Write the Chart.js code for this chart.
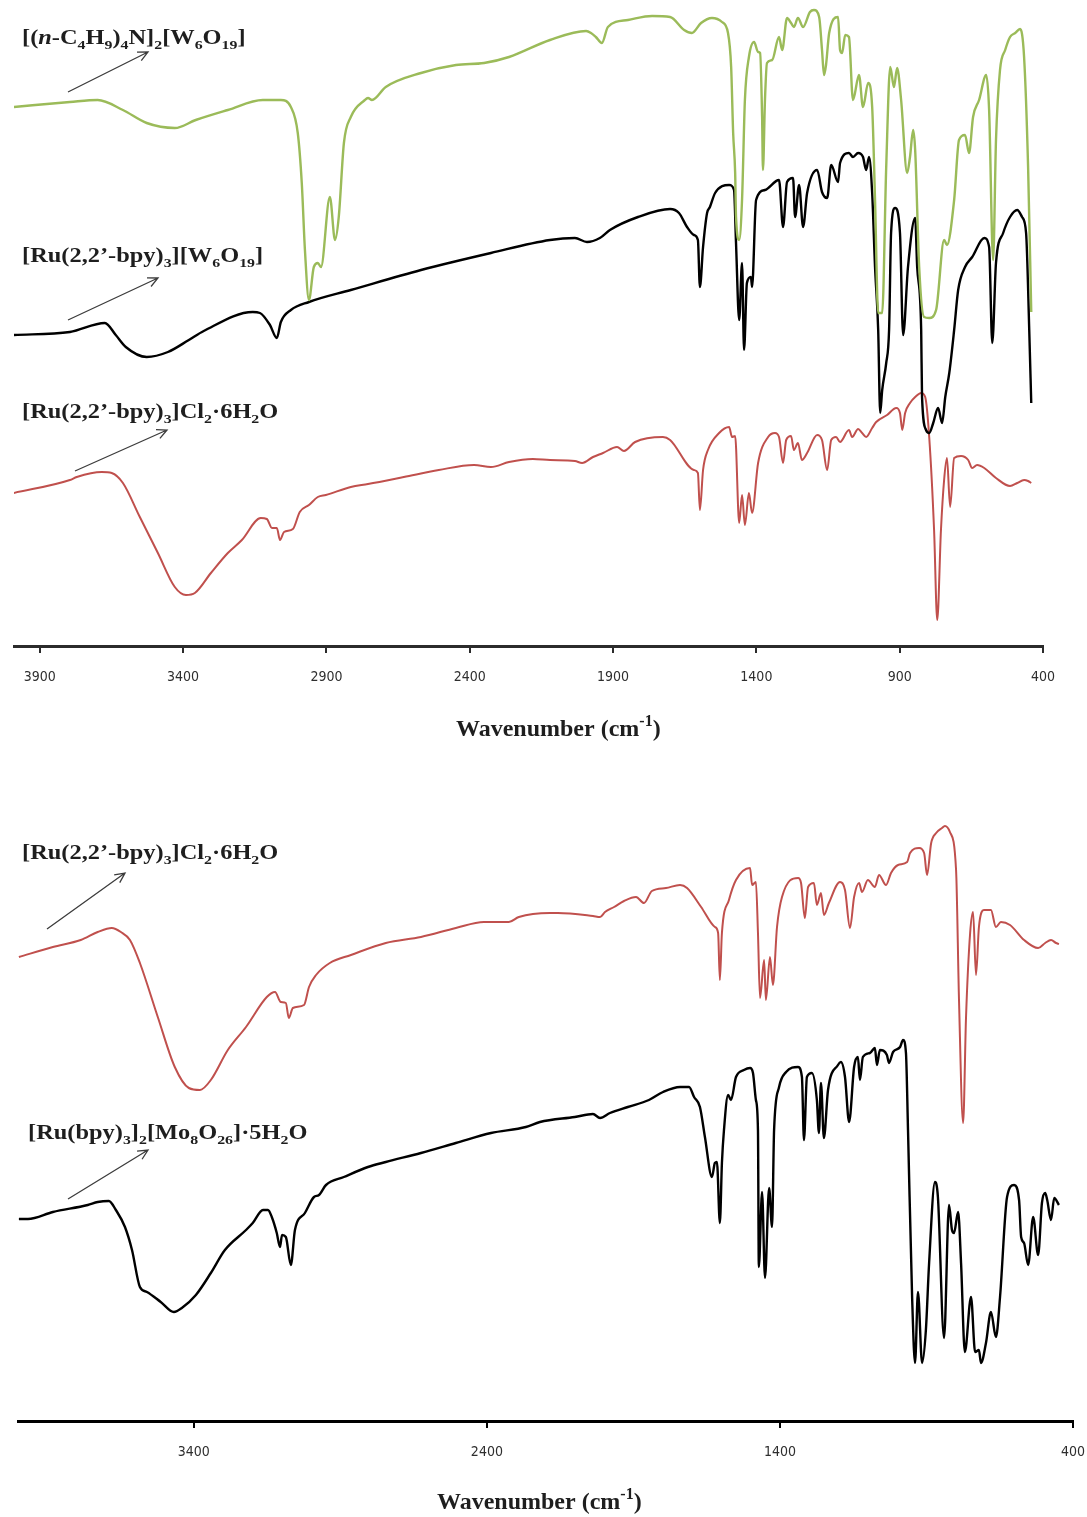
<!DOCTYPE html>
<html>
<head>
<meta charset="utf-8">
<title>IR spectra</title>
<script src="https://cdn.jsdelivr.net/npm/chart.js@4.4.1/dist/chart.umd.min.js"></script>
<style>
  body { margin: 0; background: #fff; }
  #wrap { position: relative; width: 1087px; height: 1517px; }
  canvas { position: absolute; left: 0; }
</style>
</head>
<body>
<div id="wrap">
  <canvas id="topChart" width="1087" height="760" style="top:0"></canvas>
  <canvas id="bottomChart" width="1087" height="757" style="top:760px"></canvas>
</div>
<script>
// Axis ticks (wavenumber, cm-1)
const topTicks = [3900, 3400, 2900, 2400, 1900, 1400, 900, 400];
const bottomTicks = [3400, 2400, 1400, 400];

// [(n-C4H9)4N]2[W6O19] (green, upper panel)
const tbaWn = [3991,3795,3698,3610,3527,3429,3356,3244,3122,3059,3024,3000,2986,2975,2961,2944,2930,2919,2888,2870,2857,2839,2815,2766,2755,2741,2693,2570,2448,2350,2263,2120,1994,1977,1960,1939,1918,1848,1764,1701,1652,1625,1593,1555,1520,1499,1488,1481,1474,1471,1460,1450,1440,1426,1408,1394,1387,1380,1377,1370,1363,1345,1321,1310,1293,1279,1269,1255,1237,1213,1199,1181,1171,1164,1157,1146,1115,1108,1101,1090,1077,1063,1042,1028,1010,996,986,975,961,947,933,920,909,895,874,864,853,846,832,815,797,773,745,735,710,693,672,658,644,623,598,588,574,564,550,532,515,497,480,466,452,441];
const tbaT = [53.9,54.4,54.6,53.6,52.3,51.8,52.6,53.6,54.6,54.6,53.9,51.3,46.3,39.6,34.6,37.9,38.3,37.9,44.9,40.6,42.9,50.3,52.9,54.6,54.8,54.6,55.9,57.3,58.1,58.3,58.9,60.6,61.5,61.3,60.9,60.3,61.9,62.6,63.0,62.9,61.6,61.3,62.3,62.8,62.4,61.3,57.9,51.3,47.3,42.9,40.6,44.6,54.6,58.9,60.4,59.4,59.3,52.9,47.6,54.6,58.3,58.6,60.9,59.6,62.8,62.3,61.9,62.8,61.9,63.4,63.6,62.9,59.6,57.1,58.1,61.3,62.9,59.6,59.3,61.1,60.9,54.6,57.1,53.9,56.3,53.9,44.6,33.3,33.3,47.9,57.9,55.9,57.8,54.6,47.3,48.9,51.6,49.6,37.9,32.9,32.8,33.6,40.6,40.1,44.6,50.6,51.1,49.3,52.9,54.6,57.1,53.6,38.6,50.6,57.6,59.6,60.9,61.3,61.7,58.9,47.9,33.4];

// [Ru(2,2'-bpy)3][W6O19] (black, upper panel)
const ruW6Wn = [3991,3795,3673,3635,3600,3527,3453,3380,3328,3157,3132,3097,3073,3059,3024,2961,2815,2570,2326,2120,2033,1991,1946,1911,1813,1701,1670,1642,1618,1604,1597,1586,1572,1562,1544,1495,1478,1471,1460,1450,1443,1433,1419,1415,1401,1370,1321,1307,1293,1272,1265,1251,1237,1223,1188,1171,1153,1139,1115,1108,1077,1063,1045,1028,1017,1007,996,986,975,968,961,947,937,930,916,899,888,871,846,839,825,822,808,797,783,766,752,741,727,710,696,672,647,605,588,577,564,539,515,490,473,459,448,441];
const ruW6T = [31.1,31.4,32.3,31.1,29.9,28.9,29.4,30.6,31.5,33.4,33.3,32.1,30.8,32.4,33.6,34.4,35.6,37.6,39.3,40.6,40.8,40.4,40.8,41.6,42.9,43.7,43.3,41.9,41.1,40.6,35.9,39.9,43.3,43.9,45.3,46.1,45.6,40.3,32.6,38.3,29.6,36.3,36.9,35.9,44.6,45.6,46.6,41.9,46.4,46.8,42.9,46.1,41.9,45.3,47.6,45.4,44.8,48.1,46.4,48.3,49.3,48.9,49.3,48.9,47.6,48.9,45.3,37.9,31.6,23.3,25.6,28.3,31.6,41.3,43.8,41.3,31.1,37.9,42.8,37.9,31.6,24.9,21.6,21.3,22.3,23.8,22.3,24.9,27.3,31.6,35.6,37.9,38.9,40.8,39.9,30.3,38.3,41.3,42.9,43.6,42.9,41.3,31.6,24.3];

// [Ru(2,2'-bpy)3]Cl2.6H2O (red, upper panel)
const ruClTopWn = [3991,3795,3771,3684,3649,3610,3551,3488,3429,3390,3359,3303,3244,3195,3129,3108,3090,3073,3062,3048,3017,2993,2961,2930,2902,2815,2755,2630,2508,2385,2326,2263,2180,2120,2033,2008,1970,1935,1886,1862,1823,1726,1701,1618,1604,1597,1586,1569,1530,1495,1485,1474,1460,1450,1440,1426,1415,1394,1359,1335,1321,1307,1296,1279,1269,1255,1241,1223,1188,1171,1153,1139,1122,1108,1077,1066,1045,1031,1017,996,982,944,912,899,891,881,864,846,825,811,797,780,769,756,745,735,724,710,686,661,647,630,605,564,515,490,466,452,441];
const ruClTopT = [15.3,16.6,16.9,17.4,17.3,16.3,12.9,9.3,5.9,5.1,5.3,7.3,9.3,10.6,12.8,12.7,11.8,11.8,10.6,11.4,11.7,13.4,14.1,14.9,15.1,15.9,16.2,16.9,17.6,18.1,17.9,18.4,18.7,18.6,18.5,18.3,18.9,19.3,19.9,19.5,20.4,20.9,20.6,17.6,17.3,13.6,17.6,19.6,21.3,21.9,20.9,21.0,12.3,15.1,12.1,15.3,13.3,18.3,20.9,21.3,20.9,18.3,20.6,21.0,19.6,20.3,18.6,19.3,21.1,20.6,17.6,20.6,20.9,20.4,21.6,20.9,21.7,21.3,20.9,21.8,22.4,23.1,23.8,23.3,21.6,23.3,24.3,24.9,25.3,24.9,20.9,11.6,2.6,11.6,16.6,18.8,13.9,18.8,19.0,18.6,17.8,18.1,17.8,16.8,16.0,16.3,16.6,16.5,16.3];

// [Ru(2,2'-bpy)3]Cl2.6H2O (red, lower panel)
const ruClBotWn = [3997,3881,3786,3728,3680,3649,3618,3584,3523,3465,3417,3379,3342,3284,3222,3151,3123,3103,3086,3076,3062,3024,3007,2983,2936,2864,2745,2625,2506,2410,2325,2291,2185,2158,2038,2014,1997,1966,1932,1891,1864,1837,1789,1741,1717,1669,1622,1611,1605,1598,1574,1550,1502,1495,1482,1475,1468,1454,1448,1434,1424,1410,1393,1338,1328,1315,1304,1284,1274,1260,1250,1233,1195,1178,1161,1147,1130,1120,1100,1076,1062,1038,1021,997,966,956,925,908,898,884,867,847,837,820,799,789,775,765,751,741,731,721,704,680,663,646,615,567,519,495,475,458,448];
const ruClBotT = [46.4,47.4,48.1,48.9,49.3,48.9,48.1,45.8,40.4,35.4,33.3,33.1,34.1,37.1,39.4,42.4,42.9,41.9,41.8,40.3,41.3,41.6,43.4,44.6,45.8,46.6,47.8,48.4,49.3,49.9,49.9,50.4,50.8,50.8,50.5,50.4,50.9,51.4,52.0,52.4,51.8,53.0,53.3,53.6,53.3,51.4,49.4,48.8,44.1,48.8,52.1,54.1,55.3,53.6,53.9,48.8,42.3,46.1,42.1,46.4,43.6,49.4,52.4,54.3,53.8,50.3,53.4,53.8,51.6,52.8,50.6,51.8,53.9,53.1,49.3,52.4,53.8,52.9,54.1,53.4,54.6,53.6,54.8,55.6,55.9,56.8,57.3,56.8,54.6,57.8,58.8,59.3,59.5,58.9,55.1,42.1,29.8,40.4,48.8,50.9,44.6,49.4,51.1,51.1,49.4,49.9,49.6,48.1,47.3,47.8,48.1,47.8,47.7];

// [Ru(bpy)3]2[Mo8O26].5H2O (black, lower panel)
const ruMoWn = [3997,3966,3881,3762,3728,3690,3666,3635,3611,3584,3560,3513,3468,3441,3393,3342,3294,3222,3199,3164,3147,3134,3117,3106,3099,3086,3069,3055,3021,2990,2973,2949,2888,2806,2745,2625,2506,2386,2267,2219,2100,2038,2014,1980,1919,1847,1799,1741,1710,1693,1673,1656,1632,1622,1615,1605,1598,1591,1577,1567,1550,1523,1502,1492,1482,1475,1472,1461,1451,1437,1427,1420,1403,1379,1338,1325,1318,1308,1291,1274,1267,1260,1250,1236,1202,1192,1178,1164,1147,1134,1127,1117,1093,1076,1069,1059,1035,1028,1014,990,980,970,963,949,939,929,915,902,891,871,861,840,823,813,806,792,782,769,748,734,721,714,697,680,663,649,625,601,584,577,567,553,536,519,506,495,488,475,464,448];
const ruMoT = [20.2,20.2,20.9,21.6,21.9,22.0,21.1,19.4,17.1,13.4,12.9,11.9,10.9,11.3,12.6,14.8,17.1,19.1,19.8,21.1,21.1,20.4,18.8,17.4,18.6,18.4,15.6,19.1,20.8,22.4,22.6,23.6,24.4,25.4,25.9,26.8,27.8,28.8,29.4,29.9,30.4,30.7,30.3,30.8,31.4,32.1,32.9,33.4,33.4,32.4,31.4,28.4,24.4,25.8,25.9,19.8,25.8,29.1,32.6,32.1,34.4,35.1,35.3,34.8,32.1,29.1,15.4,22.9,14.3,23.3,19.4,29.1,33.4,34.9,35.4,34.4,28.1,34.4,34.8,32.1,28.8,33.8,28.3,33.1,35.6,35.9,34.4,29.9,35.4,36.4,34.1,36.4,36.8,37.3,35.6,37.1,36.6,35.8,36.9,37.4,38.1,36.8,29.1,12.4,5.8,12.9,5.8,9.1,15.8,23.9,22.4,8.3,21.6,19.1,18.8,20.9,15.8,6.9,12.4,6.9,7.1,5.8,7.8,10.9,8.4,12.4,22.4,23.6,22.1,18.4,17.8,15.6,20.4,16.6,21.8,22.8,22.1,20.1,22.3,21.6];

const colors = {
    green: '#9bbb59',
    black: '#000000',
    red: '#c0504d',
    text: '#1e1e1e',
    arrow: '#3c3c3c'
};

const SERIF = '"Liberation Serif", "Times New Roman", serif';

// Draw a run of text pieces; 's' = subscript, 'p' = superscript, 'i' = italic
// sx stretches the run horizontally (the original labels are wide)
function drawRich(ctx, x, y, parts, size, sx) {
    let cx = 0;
    ctx.save();
    ctx.translate(x, y);
    ctx.scale(sx, 1);
    ctx.textAlign = 'left';
    ctx.textBaseline = 'alphabetic';
    ctx.fillStyle = colors.text;
    parts.forEach(([txt, kind]) => {
        const small = kind === 's' || kind === 'p';
        const fs = small ? Math.round(size * 0.66) : size;
        ctx.font = (kind === 'i' ? 'italic ' : '') + 'bold ' + fs + 'px ' + SERIF;
        const dy = kind === 's' ? size * 0.25 : kind === 'p' ? -size * 0.42 : 0;
        ctx.fillText(txt, cx, dy);
        cx += ctx.measureText(txt).width;
    });
    ctx.restore();
}

// Thin arrow with an open head
function drawArrow(ctx, [x1, y1, x2, y2]) {
    const ang = Math.atan2(y2 - y1, x2 - x1);
    const len = 11;
    ctx.save();
    ctx.strokeStyle = colors.arrow;
    ctx.lineWidth = 1.3;
    ctx.beginPath();
    ctx.moveTo(x1, y1);
    ctx.lineTo(x2, y2);
    ctx.moveTo(x2 - len * Math.cos(ang - 0.45), y2 - len * Math.sin(ang - 0.45));
    ctx.lineTo(x2, y2);
    ctx.lineTo(x2 - len * Math.cos(ang + 0.45), y2 - len * Math.sin(ang + 0.45));
    ctx.stroke();
    ctx.restore();
}

// Labels, arrows and axis title for one panel
function makeNotes(labels, arrows, title) {
    return {
        id: 'notes',
        afterDraw(chart) {
            const ctx = chart.ctx;
            labels.forEach(l => drawRich(ctx, l.x, l.y, l.parts, 20, 1.22));
            arrows.forEach(a => drawArrow(ctx, a));
            drawRich(ctx, title.x, title.y, [['Wavenumber (cm', ''], ['-1', 'p'], [')', '']], 24, 1.0);
        }
    };
}

function spectrum(wn, t, color, width) {
    return {
        data: wn.map((x, i) => ({ x: x, y: t[i] })),
        borderColor: color,
        borderWidth: width,
        pointRadius: 0,
        cubicInterpolationMode: 'monotone',
        fill: false
    };
}

function buildChart(canvasId, datasets, cfg, notes) {
    return new Chart(document.getElementById(canvasId), {
        type: 'line',
        data: { datasets: datasets },
        options: {
            responsive: false,
            animation: false,
            devicePixelRatio: 1,
            layout: { padding: { left: cfg.padLeft, right: cfg.padRight, top: 0, bottom: 0 } },
            plugins: {
                legend: { display: false },
                tooltip: { enabled: false }
            },
            scales: {
                x: {
                    type: 'linear',
                    reverse: true,
                    min: 400,
                    max: cfg.xMax,
                    afterBuildTicks: s => { s.ticks = cfg.ticks.map(v => ({ value: v })); },
                    afterFit: s => {
                        s.height = cfg.axisHeight;
                        // keep the plot edges where the original has them
                        s.paddingLeft = 0;
                        s.paddingRight = 0;
                    },
                    border: { display: true, color: cfg.axisColor, width: 3 },
                    grid: {
                        display: true,
                        drawOnChartArea: false,
                        drawTicks: true,
                        tickLength: 7,
                        lineWidth: 2,
                        color: cfg.axisColor
                    },
                    ticks: {
                        autoSkip: false,
                        maxRotation: 0,
                        padding: 16,
                        color: '#2e2e2e',
                        font: { family: '"DejaVu Sans Condensed", "DejaVu Sans", sans-serif', size: 14 },
                        callback: v => String(v)
                    }
                },
                y: { display: false, min: 0, max: cfg.yMax }
            }
        },
        plugins: [notes]
    });
}

document.addEventListener('DOMContentLoaded', function() {
    // Upper panel: W6O19 salts
    buildChart('topChart', [
        spectrum(tbaWn, tbaT, colors.green, 2.4),
        spectrum(ruW6Wn, ruW6T, colors.black, 2.4),
        spectrum(ruClTopWn, ruClTopT, colors.red, 2)
    ], {
        padLeft: 14, padRight: 44, xMax: 3990, yMax: 64.6,
        axisHeight: 114, axisColor: '#2b2b2b', ticks: topTicks
    }, makeNotes([
        { x: 22, y: 44, parts: [['[(', ''], ['n', 'i'], ['-C', ''], ['4', 's'], ['H', ''], ['9', 's'], [')', ''], ['4', 's'], ['N]', ''], ['2', 's'], ['[W', ''], ['6', 's'], ['O', ''], ['19', 's'], [']', '']] },
        { x: 22, y: 262, parts: [['[Ru(2,2\u2019-bpy)', ''], ['3', 's'], ['][W', ''], ['6', 's'], ['O', ''], ['19', 's'], [']', '']] },
        { x: 22, y: 418, parts: [['[Ru(2,2\u2019-bpy)', ''], ['3', 's'], [']Cl', ''], ['2', 's'], ['\u00b76H', ''], ['2', 's'], ['O', '']] }
    ], [
        [68, 92, 148, 52],
        [68, 320, 158, 278],
        [75, 471, 167, 430]
    ], { x: 456, y: 736 }));

    // Lower panel: Mo8O26 salt
    buildChart('bottomChart', [
        spectrum(ruClBotWn, ruClBotT, colors.red, 2),
        spectrum(ruMoWn, ruMoT, colors.black, 2.4)
    ], {
        padLeft: 18, padRight: 14, xMax: 4000, yMax: 66.1,
        axisHeight: 96, axisColor: '#000000', ticks: bottomTicks
    }, makeNotes([
        { x: 22, y: 99, parts: [['[Ru(2,2\u2019-bpy)', ''], ['3', 's'], [']Cl', ''], ['2', 's'], ['\u00b76H', ''], ['2', 's'], ['O', '']] },
        { x: 28, y: 379, parts: [['[Ru(bpy)', ''], ['3', 's'], [']', ''], ['2', 's'], ['[Mo', ''], ['8', 's'], ['O', ''], ['26', 's'], [']\u00b75H', ''], ['2', 's'], ['O', '']] }
    ], [
        [47, 169, 125, 113],
        [68, 439, 148, 390]
    ], { x: 437, y: 749 }));
});
</script>
</body>
</html>
